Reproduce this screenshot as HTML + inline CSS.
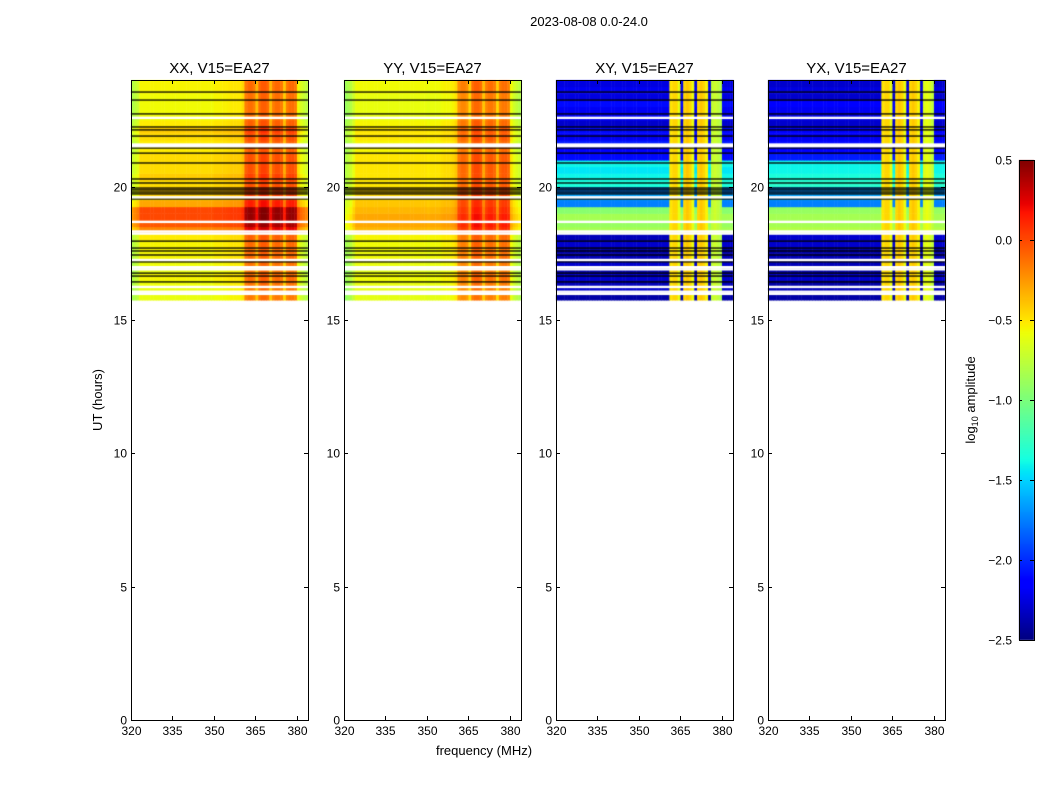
<!DOCTYPE html>
<html><head><meta charset="utf-8">
<style>
body{margin:0;background:#fff;}
#wrap{position:relative;width:1050px;height:800px;overflow:hidden;font-family:"Liberation Sans",sans-serif;}
canvas,svg{position:absolute;left:0;top:0;}
</style></head>
<body>
<div id="wrap">
<canvas id="cv" width="1050" height="800"></canvas>
<svg id="sv" width="1050" height="800"></svg>
</div>
<script>
// ---- data ----
const panelTitles = ["XX, V15=EA27","YY, V15=EA27","XY, V15=EA27","YX, V15=EA27"];
const xTicks = [320,335,350,365,380];
const yTicks = [0,5,10,15,20];
const cbTicks = [0.5,0.0,-0.5,-1.0,-1.5,-2.0,-2.5];
// time rows: 0.25 h bins starting at 15.75 h
const rowStart = 15.75;
const rowXX = [-0.6,-0.6,-0.58,-0.55,-0.6,-0.58,-0.55,-0.55,-0.55,-0.52,-0.2,-0.05,0.0,0.0,-0.3,-0.42,-0.42,-0.47,-0.42,-0.47,-0.47,-0.47,-0.52,-0.52,-0.47,-0.42,-0.52,-0.57,-0.57,-0.57,-0.57,-0.55,-0.55];
const rowYY = [-0.62,-0.62,-0.6,-0.57,-0.62,-0.6,-0.57,-0.57,-0.57,-0.55,-0.35,-0.3,-0.3,-0.35,-0.4,-0.45,-0.45,-0.5,-0.5,-0.5,-0.5,-0.5,-0.55,-0.55,-0.5,-0.5,-0.55,-0.6,-0.6,-0.6,-0.6,-0.57,-0.57];
const rowXY = [-2.4,-2.3,-2.35,-2.3,-2.4,-2.3,-2.35,-2.4,-2.3,-2.35,-0.85,-0.9,-0.85,-0.95,-1.75,-1.65,-1.75,-1.35,-1.4,-1.45,-1.4,-2.1,-2.15,-2.05,-2.2,-2.1,-2.3,-2.2,-2.2,-2.1,-2.25,-2.2,-2.25];
const rowYX = [-2.4,-2.35,-2.4,-2.3,-2.4,-2.35,-2.35,-2.4,-2.3,-2.3,-0.8,-0.85,-0.85,-0.9,-1.75,-1.65,-1.7,-1.3,-1.35,-1.4,-1.4,-2.05,-2.15,-2.1,-2.2,-2.15,-2.3,-2.25,-2.2,-2.15,-2.3,-2.25,-2.3];
// frequency columns: 1 MHz bins starting at 320 MHz (64 bins)
const colXX = [-0.25,-0.2,-0.15,0,0,0,0,0,0,0,0,0,0,0,0,0,0,0,0,0,0,0,0,0,0,0,0,0,0,0,0.02,0.02,0.02,0.03,0.03,0.04,0.05,0.05,0.05,0.05,0.1,0.4,0.45,0.45,0.4,0.2,0.45,0.5,0.5,0.45,0.2,0.4,0.45,0.45,0.4,0.15,0.4,0.45,0.45,0.4,0.0,-0.1,-0.15,-0.2];
const colYY = [-0.3,-0.25,-0.2,-0.1,0,0,0,0,0,0,0,0,0,0,0,0,0,0,0,0,0,0,0,0,0,0,0,0,0,0,-0.02,0,0,0,0,0.02,0.03,0.03,0.03,0.05,0.1,0.35,0.4,0.4,0.35,0.15,0.45,0.5,0.5,0.45,0.2,0.4,0.45,0.45,0.4,0.15,0.4,0.45,0.45,0.4,0.0,-0.1,-0.15,-0.2];
const colXY = [-3,-3,-3,-3,-3,-3,-3,-3,-3,-3,-3,-3,-3,-3,-3,-3,-3,-3,-3,-3,-3,-3,-3,-3,-3,-3,-3,-3,-3,-3,-3,-3,-3,-3,-3,-3,-3,-3,-3,-3,-3,-0.5,-0.45,-0.45,-0.6,-3,-0.45,-0.4,-0.45,-0.6,-3,-0.45,-0.4,-0.45,-0.55,-3,-0.75,-0.7,-0.75,-0.8,-3,-3,-3,-3];
const colYX = [-3,-3,-3,-3,-3,-3,-3,-3,-3,-3,-3,-3,-3,-3,-3,-3,-3,-3,-3,-3,-3,-3,-3,-3,-3,-3,-3,-3,-3,-3,-3,-3,-3,-3,-3,-3,-3,-3,-3,-3,-3,-0.5,-0.45,-0.45,-0.6,-3,-0.45,-0.4,-0.45,-0.6,-3,-0.45,-0.4,-0.45,-0.55,-3,-0.65,-0.6,-0.65,-0.75,-3,-3,-3,-3];
// flagged rows (hours)
const blackRows = [23.55,23.25,22.73,22.24,22.13,21.9,21.45,21.26,20.89,20.29,20.14,19.95,19.88,19.8,19.73,19.54,17.96,17.7,17.59,17.44,17.18,16.76,16.65,16.43];
const whiteRows = [22.58,21.58,21.52,19.6,18.68,18.32,18.24,17.25,16.98,16.9,16.24,16.06,15.98];

const panelLefts=[131,344,556,768], PW=177, TOP=80, BOT=720;
const rows=[rowXX,rowYY,rowXY,rowYX], cols=[colXX,colYY,colXY,colYX];
const modes=["add","add","max","max"];
function xs(p,f){return panelLefts[p]+(f-320)*PW/64;}
function ys(h){return BOT-h*(BOT-TOP)/24;}
function interp(pts,t){for(let i=1;i<pts.length;i++){if(t<=pts[i][0]){const a=pts[i-1],b=pts[i];return a[1]+(b[1]-a[1])*(t-a[0])/(b[0]-a[0]);}}return pts[pts.length-1][1];}
function jet(v){let t=(v+2.5)/3;t=Math.max(0,Math.min(1,t));
 const r=interp([[0,0],[0.35,0],[0.66,1],[0.89,1],[1,0.5]],t);
 const g=interp([[0,0],[0.125,0],[0.375,1],[0.64,1],[0.91,0],[1,0]],t);
 const b=interp([[0,0.5],[0.11,1],[0.34,1],[0.65,0],[1,0]],t);
 return `rgb(${Math.round(r*255)},${Math.round(g*255)},${Math.round(b*255)})`;}

const ctx=document.getElementById('cv').getContext('2d');
for(let p=0;p<4;p++){
 const R=rows[p],C=cols[p];
 for(let i=0;i<R.length;i++){
  const h0=rowStart+0.25*i, y1=ys(h0), y0=ys(Math.min(24,h0+0.25));
  for(let j=0;j<C.length;j++){
   const v=modes[p]==="add"?R[i]+C[j]:Math.max(R[i],C[j]);
   ctx.fillStyle=jet(v);
   const x0=xs(p,320+j), x1=xs(p,321+j);
   ctx.fillRect(x0,y0,x1-x0+0.5,y1-y0+0.5);
  }
 }
 blackRows.forEach(h=>{ctx.fillStyle="#000";ctx.fillRect(panelLefts[p],ys(h)-0.6,PW,1.3);});
 whiteRows.forEach(h=>{ctx.fillStyle="#fff";ctx.fillRect(panelLefts[p],ys(h)-1.2,PW,2.4);});
}
// colorbar
const cbX=1019,cbW=15,cbT=160,cbB=640;
for(let y=cbT;y<cbB;y++){ctx.fillStyle=jet(0.5-(y-cbT+0.5)*3/(cbB-cbT));ctx.fillRect(cbX,y,cbW,1);}

const NS="http://www.w3.org/2000/svg";
const sv=document.getElementById('sv');
function el(tag,attrs,txt){const e=document.createElementNS(NS,tag);for(const k in attrs)e.setAttribute(k,attrs[k]);if(txt!==undefined)e.textContent=txt;sv.appendChild(e);return e;}
for(let p=0;p<4;p++){
 const L=panelLefts[p];
 const fr=el('rect',{x:L+0.5,y:TOP+0.5,width:PW,height:BOT-TOP,fill:'none',stroke:'#000','stroke-width':1});
 
 
 const t=el('text',{x:L+PW/2,y:TOP-7,'text-anchor':'middle','font-size':15},panelTitles[p]);
 
 
 xTicks.forEach(f=>{const x=Math.round(xs(p,f))+0.5;
  el('line',{x1:x,x2:x,y1:BOT,y2:BOT-4,stroke:'#000'});
  el('line',{x1:x,x2:x,y1:TOP,y2:TOP+4,stroke:'#000'});
  const tl=el('text',{x:x,y:BOT+15,'text-anchor':'middle','font-size':12},String(f));
  
  });
 yTicks.forEach(h=>{const y=Math.round(ys(h))+0.5;
  el('line',{x1:L,x2:L+4,y1:y,y2:y,stroke:'#000'});
  el('line',{x1:L+PW-4,x2:L+PW,y1:y,y2:y,stroke:'#000'});
  const tl=el('text',{x:L-4,y:y+4,'text-anchor':'end','font-size':12},String(h));
  
  });
}
const st=el('text',{x:589,y:26,'text-anchor':'middle','font-size':13},'2023-08-08 0.0-24.0');


const yl=el('text',{x:0,y:0,'text-anchor':'middle','font-size':13,transform:'translate(102,400) rotate(-90)'},'UT (hours)');


const xl=el('text',{x:484,y:755,'text-anchor':'middle','font-size':13},'frequency (MHz)');


const cbf=el('rect',{x:cbX+0.5,y:cbT+0.5,width:cbW,height:cbB-cbT,fill:'none',stroke:'#000'});


cbTicks.forEach(v=>{const y=Math.round(cbT+(0.5-v)*(cbB-cbT)/3)+0.5;
 el('line',{x1:cbX+cbW-4,x2:cbX+cbW,y1:y,y2:y,stroke:'#000'});
 el('line',{x1:cbX,x2:cbX+3,y1:y,y2:y,stroke:'#000'});
 const tl=el('text',{x:1012,y:y+4,'text-anchor':'end','font-size':12},(v<0?'\u2212':'')+Math.abs(v).toFixed(1));
 
 });
const cl=el('text',{x:0,y:0,'text-anchor':'middle','font-size':13,transform:'translate(975,400) rotate(-90)'});


cl.innerHTML='log<tspan font-size="9" dy="3">10</tspan><tspan dy="-3"> amplitude</tspan>';
</script>
</body></html>
